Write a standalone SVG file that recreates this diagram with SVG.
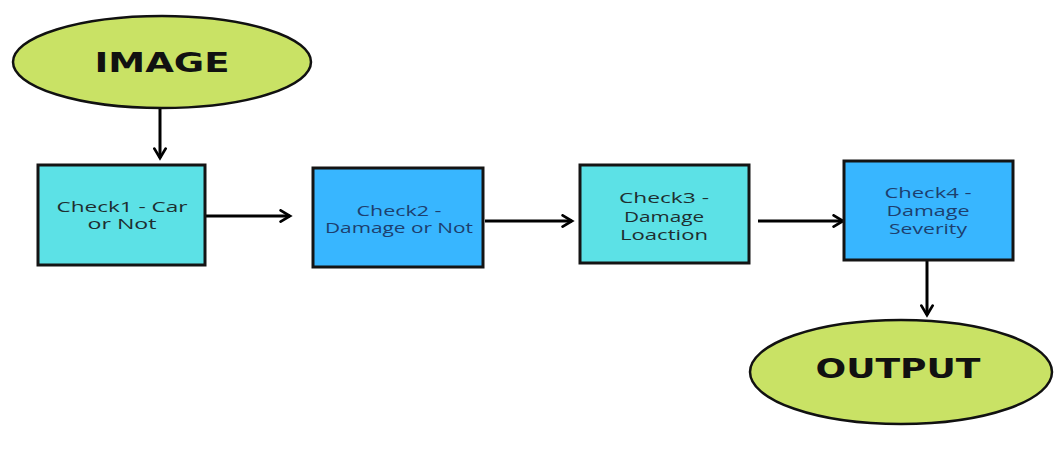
<svg xmlns="http://www.w3.org/2000/svg" width="1060" height="450" viewBox="0 0 1060 450">
  <defs>
    <marker id="arr" viewBox="0 0 12 12" refX="10" refY="6" markerWidth="5" markerHeight="5" markerUnits="strokeWidth" orient="auto">
      <path d="M2.5,1.5 L10,6 L2.5,10.5" fill="none" stroke="#000" stroke-width="2.2" stroke-linecap="round" stroke-linejoin="miter"/>
    </marker>
  </defs>
  <style>
    .oval { fill: #c9e265; stroke: #111; stroke-width: 2.5; }
    .cyan { fill: #5ce1e6; stroke: #141414; stroke-width: 3; }
    .blue { fill: #38b6ff; stroke: #141414; stroke-width: 3; }
    .big { font-family: "DejaVu Sans", "Liberation Sans", sans-serif; font-weight: bold; font-size: 26px; fill: #111; text-anchor: middle; }
    .lbl { font-family: "Open Sans", "Liberation Sans", sans-serif; font-size: 14px; text-anchor: middle; }
    .dk { fill: #1e2e30; }
    .bl { fill: #1d3f6e; }
    .conn { stroke: #000; stroke-width: 3; fill: none; marker-end: url(#arr); }
  </style>
  <rect width="1060" height="450" fill="#fff"/>
  <g id="connectors">
    <line class="conn" x1="160" y1="109" x2="160" y2="158"/>
    <line class="conn" x1="206" y1="216" x2="290" y2="216"/>
    <line class="conn" x1="485" y1="221" x2="572" y2="221"/>
    <line class="conn" x1="758" y1="221" x2="843" y2="221"/>
    <line class="conn" x1="927" y1="261" x2="927" y2="315"/>
  </g>
  <g id="image">
    <ellipse class="oval" cx="162" cy="62" rx="149" ry="46"/>
    <text class="big" x="162" y="72" textLength="135" lengthAdjust="spacingAndGlyphs">IMAGE</text>
  </g>
  <g id="check1">
    <rect class="cyan" x="38" y="165" width="167" height="100"/>
    <text class="lbl dk" x="122" y="212" textLength="131" lengthAdjust="spacingAndGlyphs">Check1 - Car</text>
    <text class="lbl dk" x="122" y="229" textLength="69" lengthAdjust="spacingAndGlyphs">or Not</text>
  </g>
  <g id="check2">
    <rect class="blue" x="313" y="168" width="170" height="99"/>
    <text class="lbl bl" x="399" y="216" textLength="85" lengthAdjust="spacingAndGlyphs">Check2 -</text>
    <text class="lbl bl" x="399" y="233" textLength="148" lengthAdjust="spacingAndGlyphs">Damage or Not</text>
  </g>
  <g id="check3">
    <rect class="cyan" x="580" y="165" width="169" height="98"/>
    <text class="lbl dk" x="664" y="203" textLength="90" lengthAdjust="spacingAndGlyphs">Check3 -</text>
    <text class="lbl dk" x="664" y="222" textLength="80" lengthAdjust="spacingAndGlyphs">Damage</text>
    <text class="lbl dk" x="664" y="240" textLength="88" lengthAdjust="spacingAndGlyphs">Loaction</text>
  </g>
  <g id="check4">
    <rect class="blue" x="844" y="161" width="169" height="99"/>
    <text class="lbl bl" x="928" y="198" textLength="87" lengthAdjust="spacingAndGlyphs">Check4 -</text>
    <text class="lbl bl" x="928" y="216" textLength="83" lengthAdjust="spacingAndGlyphs">Damage</text>
    <text class="lbl bl" x="928" y="234" textLength="78" lengthAdjust="spacingAndGlyphs">Severity</text>
  </g>
  <g id="output">
    <ellipse class="oval" cx="901" cy="372" rx="151" ry="52"/>
    <text class="big" x="898" y="378" font-size="27" textLength="165" lengthAdjust="spacingAndGlyphs">OUTPUT</text>
  </g>
</svg>
